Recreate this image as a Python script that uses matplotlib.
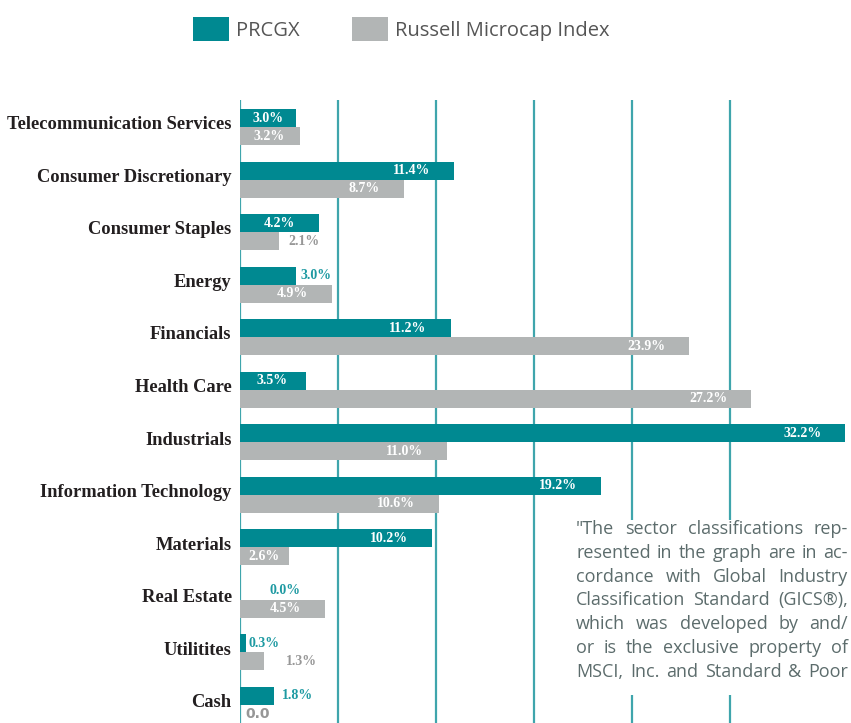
import numpy as np
import matplotlib
matplotlib.use("Agg")
import matplotlib.pyplot as plt
from matplotlib.patches import Rectangle

# sector weights (%)
sectors = ["Telecommunication Services", "Consumer Discretionary", "Consumer Staples",
           "Energy", "Financials", "Health Care", "Industrials", "Information Technology",
           "Materials", "Real Estate", "Utilitites", "Cash"]
prcgx = [3.0, 11.4, 4.2, 3.0, 11.2, 3.5, 32.2, 19.2, 10.2, 0.0, 0.3, 1.8]
russell = [3.2, 8.7, 2.1, 4.9, 23.9, 27.2, 11.0, 10.6, 2.6, 4.5, 1.3, 0.0]
prcgx_labels = ["3.0%", "11.4%", "4.2%", "3.0%", "11.2%", "3.5%", "32.2%", "19.2%",
                "10.2%", "0.0%", "0.3%", "1.8%"]
russell_labels = ["3.2%", "8.7%", "2.1%", "4.9%", "23.9%", "27.2%", "11.0%", "10.6%",
                  "2.6%", "4.5%", "1.3%", "0.0"]

note_lines = ['"The sector classifications rep-',
              'resented in the graph are in ac-',
              'cordance with Global Industry',
              'Classification Standard (GICS®),',
              'which was developed by and/',
              'or is the exclusive property of',
              'MSCI, Inc. and Standard & Poor']

TEAL = "#008991"
GREY = "#b2b5b5"
GRID = "#3fa5ac"

# labels drawn outside their bar: (row, series) -> pixel offset from bar end
outside = {(2, 1): 9, (3, 0): 4, (9, 0): 30, (10, 0): 3, (10, 1): 22, (11, 0): 8, (11, 1): 5}

W, H = 851, 723
fig = plt.figure(figsize=(W / 100, H / 100), dpi=100)
ax = fig.add_axes([240 / W, 0, 1 - 240 / W, (H - 100) / H])

scale = 18.8  # px per percent
y = np.arange(len(sectors))
h = 18 / 52.5
ax.barh(y - h / 2, prcgx, height=h, color=TEAL, zorder=3, label="PRCGX")
ax.barh(y + h / 2, russell, height=h, color=GREY, zorder=3, label="Russell Microcap Index")

ax.set_xlim(0, (W - 240) / scale)
ax.set_ylim(len(sectors) - 1 + 18 / 52.5, -27 / 52.5)
ax.set_xticks(np.arange(6) * 98 / scale)
ax.xaxis.grid(True, color=GRID, lw=1.6, zorder=0)
ax.tick_params(axis="x", length=0, labelbottom=False)
ax.tick_params(axis="y", length=0, pad=6)
ax.set_yticks(y - 0.08)
ax.set_yticklabels(sectors, fontfamily="Liberation Serif", fontweight="bold",
                   fontsize=13.3, color="#231f20")
for s in ax.spines.values():
    s.set_visible(False)

for series, (vals, labs, out_col) in enumerate(
        [(prcgx, prcgx_labels, "#1e9aa2"), (russell, russell_labels, "#979797")]):
    for i, (v, t) in enumerate(zip(vals, labs)):
        yy = i - h / 2 if series == 0 else i + h / 2
        if (i, series) in outside:
            fam = "DejaVu Sans" if t == "0.0" else "Liberation Serif"
            ax.annotate(t, (v, yy), xytext=(outside[(i, series)], 0), textcoords="offset pixels",
                        ha="left", va="center", color=out_col, zorder=4,
                        fontfamily=fam, fontweight="bold", fontsize=10)
        else:
            off = min(24, (v * scale - 30) / 2)
            ax.annotate(t, (v, yy), xytext=(-off, 0), textcoords="offset pixels",
                        ha="right", va="center", color="white", zorder=4,
                        fontfamily="Liberation Serif", fontweight="bold", fontsize=10)

# legend
fig.legend(loc="center left", bbox_to_anchor=(193 / W, 1 - 29 / H), ncol=2, frameon=False,
           prop={"family": "Open Sans", "size": 14.5}, labelcolor="#555555",
           handlelength=1.79, handleheight=1.44, handletextpad=0.35, columnspacing=2.6,
           borderpad=0, borderaxespad=0)

# note with justified lines
fig.patches.append(Rectangle((568 / W, 1 - 695 / H), (W - 568) / W, 175 / H,
                             transform=fig.transFigure, facecolor="white", edgecolor="none",
                             zorder=5))
renderer = fig.canvas.get_renderer()
x0, x1 = 576, 848
for k, line in enumerate(note_lines):
    yc = 529 + k * 23.8
    words = line.split(" ")
    texts = [fig.text(0, 1 - yc / H, w_, fontfamily="Open Sans", fontsize=13,
                      color="#5c6c6c", va="center", ha="left", zorder=6) for w_ in words]
    widths = [t.get_window_extent(renderer).width for t in texts]
    gap = (x1 - x0 - sum(widths)) / max(len(words) - 1, 1)
    xp = x0
    for t, wd in zip(texts, widths):
        t.set_x(xp / W)
        xp += wd + gap

fig.savefig("out.png", dpi=100)
